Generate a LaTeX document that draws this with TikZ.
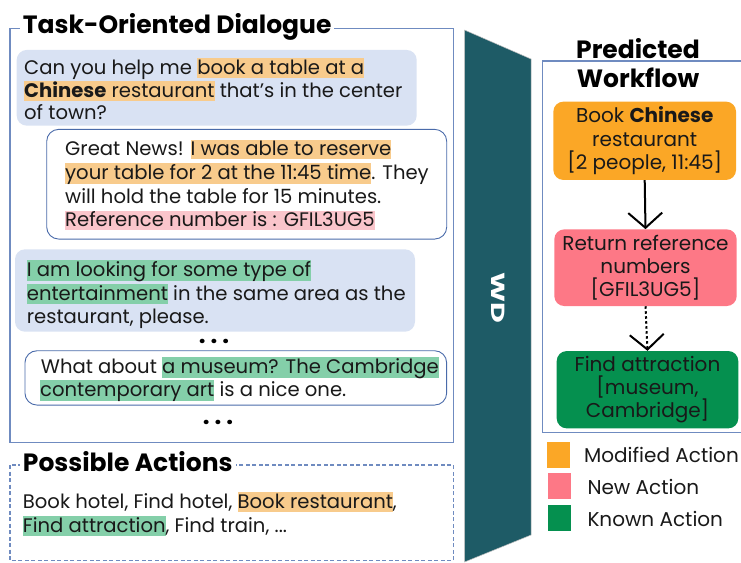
\documentclass[tikz,border=0pt]{standalone}
\usepackage{fontspec}
\setmainfont{Poppins}
\usetikzlibrary{arrows.meta}
\definecolor{frameC}{HTML}{6F8BC0}
\definecolor{bubC}{HTML}{D9E2F3}
\definecolor{bubline}{HTML}{4A6BAA}
\definecolor{bannerC}{HTML}{1E5B66}
\definecolor{orangeC}{HTML}{FBA726}
\definecolor{pinkC}{HTML}{FD7886}
\definecolor{greenC}{HTML}{05904F}
\definecolor{hlo}{HTML}{F8CB8C}
\definecolor{hlp}{HTML}{FAC5CB}
\definecolor{hlg}{HTML}{84CFA9}
\newcommand{\hlt}[2]{{\setlength{\fboxsep}{0pt}\colorbox{#1}{\vrule height .8em depth .18em width 0pt#2}}}
\newcommand{\bodyfont}{\fontsize{19.6}{23.3}\selectfont}
\newcommand{\boxfont}{\fontsize{20}{23.3}\selectfont}
\newcommand{\titlefont}{\fontsize{25}{29}\selectfont\bfseries}
\tikzset{
  txt/.style={anchor=base west, inner sep=0pt, font=\bodyfont, text=black!90},
  bubA/.style={fill=bubC, rounded corners=10pt, inner sep=0pt},
  bubB/.style={draw=bubline, line width=0.9pt, fill=white, rounded corners=12pt, inner sep=0pt},
  frm/.style={draw=frameC, line width=1.1pt},
  ttl/.style={anchor=base west, fill=white, inner xsep=3pt, inner ysep=0pt, font=\titlefont},
  wbox/.style={rounded corners=10pt, inner sep=0pt, align=center, font=\boxfont, text=black!90},
  arr/.style={line width=2pt, -{Straight Barb[length=15pt, width=34pt, line width=2pt]}},
  legsq/.style={inner sep=0pt, minimum width=22.7pt, minimum height=26pt},
  dots/.style={anchor=base, inner sep=0pt, font=\fontsize{24}{24}\selectfont\bfseries}
}
\begin{document}
\begin{tikzpicture}[x=1pt, y=-1pt]
\useasboundingbox (0,0) rectangle (741,562);
% left frames
\draw[frm] (10,28.3) rectangle (453.3,442.3);
\draw[frm, dash pattern=on 4pt off 2.5pt] (10,465) rectangle (453.3,560.7);
\node[ttl] (t1) at (19.7,33.3) {Task-Oriented Dialogue};
\node[ttl] (t2) at (19.7,471.7) {Possible Actions};
% bubbles
\node[bubA, minimum width=400pt, minimum height=75.7pt] (bub1) at (216.7,87.8) {};
\node[bubB, minimum width=400pt, minimum height=109.7pt] (bub2) at (246.7,184.2) {};
\node[bubA, minimum width=400pt, minimum height=82.4pt] (bub3) at (215,290.5) {};
\node[bubB, minimum width=421.7pt, minimum height=54.3pt] (bub4) at (235.8,377.9) {};
% bubble 1
\node[txt] (b1a) at (24,74) {Can you help me \hlt{hlo}{book a table at a}};
\node[txt] (b1b) at (24,97) {\hlt{hlo}{\textbf{Chinese} restaurant} that's in the center};
\node[txt] (b1c) at (24,119.5) {of town?};
% bubble 2
\node[txt] (b2a) at (65,155.7) {Great News! \hlt{hlo}{I was able to reserve}};
\node[txt] (b2b) at (65,179) {\hlt{hlo}{your table for 2 at the 11:45 time}. They};
\node[txt] (b2c) at (65,203) {will hold the table for 15 minutes.};
\node[txt] (b2d) at (65,226.7) {\hlt{hlp}{Reference number is : GFIL3UG5}};
% bubble 3
\node[txt] (b3a) at (26.7,276) {\hlt{hlg}{I am looking for some type of}};
\node[txt] (b3b) at (26.7,300) {\hlt{hlg}{entertainment} in the same area as the};
\node[txt] (b3c) at (26.7,323) {restaurant, please.};
\node[dots] (d1) at (214,343) {.\hspace{5pt}.\hspace{5pt}.};
% bubble 4
\node[txt] (b4a) at (40.7,373) {What about \hlt{hlg}{a museum? The Cambridge}};
\node[txt] (b4b) at (40,396) {\hlt{hlg}{contemporary art} is a nice one.};
\node[dots] (d2) at (218,424.5) {.\hspace{5pt}.\hspace{5pt}.};
% possible actions
\node[txt] (pa1) at (22.7,508) {Book hotel, Find hotel, \hlt{hlo}{Book restaurant},};
\node[txt] (pa2) at (22.7,532) {\hlt{hlg}{Find attraction}, Find train, ...};
% banner
\filldraw[fill=bannerC, draw=black!25, line width=0.5pt] (464.5,30) -- (531,59) -- (531,535) -- (464.5,562) -- cycle;
\node[rotate=-90, text=white, font=\fontsize{19}{19}\selectfont\bfseries, inner sep=0pt] (wd) at (498,298) {\scalebox{1.5}[1]{WD}};
% right frame
\draw[frm] (745,61) -- (542.7,61) -- (542.7,432.3) -- (745,432.3);
\node[anchor=base, fill=white, minimum width=156pt, inner ysep=0pt, font=\titlefont] (t3) at (638,58.3) {Predicted};
\node[anchor=base, inner sep=0pt, font=\titlefont] (t4) at (638,87.3) {Workflow};
% workflow boxes
\node[wbox, fill=orangeC, minimum width=182.7pt, minimum height=78.3pt] (w1) at (644.7,140.8) {Book \textbf{Chinese}\\restaurant\\{[}2 people, 11:45{]}};
\node[wbox, fill=pinkC, minimum width=182.4pt, minimum height=76.7pt] (w2) at (645.5,267.7) {Return reference\\numbers\\{[}GFIL3UG5{]}};
\node[wbox, fill=greenC, minimum width=181.6pt, minimum height=77.3pt] (w3) at (647.5,389.7) {Find attraction\\{[}museum,\\Cambridge{]}};
\draw[arr] (w1.south) -- (w2.north);
\draw[arr, dash pattern=on 2.5pt off 2.5pt] (w2.south) -- (w3.north);
% legend
\node[legsq, fill=orangeC] (l1) at (558.7,454.7) {};
\node[legsq, fill=pinkC] (l2) at (559.5,485.9) {};
\node[legsq, fill=greenC] (l3) at (559.5,517.9) {};
\node[txt, font=\boxfont] (lt1) at (584,462.7) {Modified Action};
\node[txt, font=\boxfont] (lt2) at (587.3,494) {New Action};
\node[txt, font=\boxfont] (lt3) at (587.3,526) {Known Action};
\end{tikzpicture}
\end{document}
